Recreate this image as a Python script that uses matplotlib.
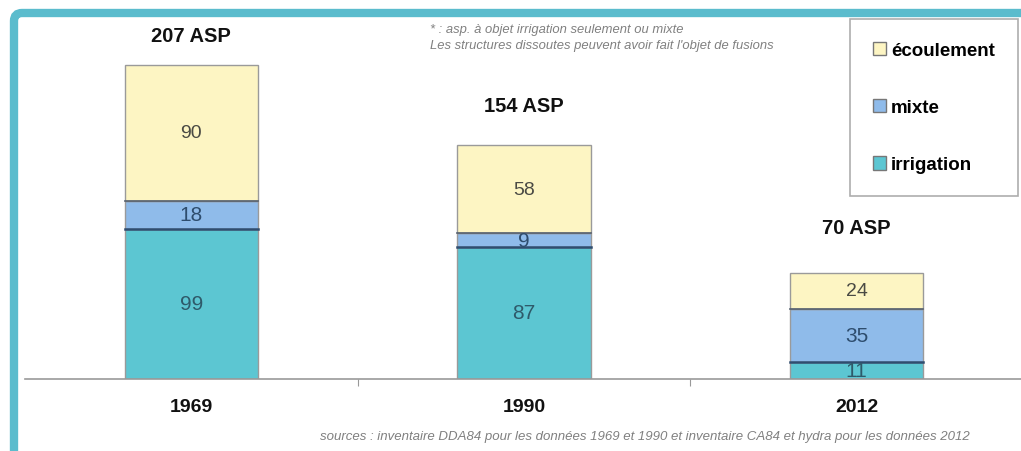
import matplotlib.pyplot as plt
from matplotlib.patches import Patch, FancyBboxPatch
from matplotlib.transforms import IdentityTransform
import numpy as np

plt.rcParams['font.family'] = ['Liberation Sans', 'DejaVu Sans']

years = ["1969", "1990", "2012"]
irrigation = [99, 87, 11]
mixte = [18, 9, 35]
ecoulement = [90, 58, 24]
totals = ["207 ASP", "154 ASP", "70 ASP"]

# gap between bar top and total label (layout only)
label_gap = [19, 26, 30]

c_irr = '#5cc6d2'
c_mix = '#8fbbea'
c_eco = '#fdf5c3'
c_edge = '#9a9a9a'
c_sep = '#2f4d70'

fig = plt.figure(figsize=(10.21, 4.52), dpi=100)
ax = fig.add_axes([25 / 1021, 72 / 452, 998 / 1021, 360 / 452])

x = np.arange(len(years))
irr = np.array(irrigation)
mix = np.array(mixte)
eco = np.array(ecoulement)
w = 0.40

ax.bar(x, irr, w, color=c_irr, edgecolor=c_edge, lw=1)
ax.bar(x, mix, w, bottom=irr, color=c_mix, edgecolor=c_edge, lw=1)
ax.bar(x, eco, w, bottom=irr + mix, color=c_eco, edgecolor=c_edge, lw=1)
# dark separators on top of the lower segments
for i in range(len(x)):
    ax.plot([x[i] - w / 2, x[i] + w / 2], [irr[i], irr[i]], c=c_sep, lw=1.8)
    ax.plot([x[i] - w / 2, x[i] + w / 2], [irr[i] + mix[i]] * 2, c='#55606e', lw=1.2)

for i in range(len(x)):
    ax.text(x[i], irr[i] / 2, str(irr[i]), ha='center', va='center', fontsize=15, color='#2e5a6a')
    ax.text(x[i], irr[i] + mix[i] / 2, str(mix[i]), ha='center', va='center', fontsize=15, color='#2e4d6e')
    ax.text(x[i], irr[i] + mix[i] + eco[i] / 2, str(eco[i]), ha='center', va='center', fontsize=14, color='#4a4a44')
    top = irr[i] + mix[i] + eco[i]
    ax.text(x[i], top + label_gap[i], totals[i], ha='center', va='center', fontsize=14.5,
            fontweight='bold', color='#111111')

ax.set_xlim(-0.5, 2.5)
ax.set_ylim(0, 237)
ax.set_yticks([])
ax.set_xticks([0.5, 1.5])
ax.set_xticklabels([])
ax.tick_params(axis='x', length=5, color='#999999')
for s in ['top', 'right', 'left']:
    ax.spines[s].set_visible(False)
ax.spines['bottom'].set_color('#999999')
ax.spines['bottom'].set_linewidth(1.2)
for i, yr in enumerate(years):
    ax.text(x[i], -18, yr, ha='center', va='center', fontsize=14, fontweight='bold', color='#111111')

# notes
fig.text(430 / 1021, 1 - 30 / 452, "* : asp. à objet irrigation seulement ou mixte",
         fontsize=9.4, style='italic', color='#808080', va='center')
fig.text(430 / 1021, 1 - 46 / 452, "Les structures dissoutes peuvent avoir fait l'objet de fusions",
         fontsize=9.4, style='italic', color='#808080', va='center')
fig.text(320 / 1021, 1 - 437 / 452,
         "sources : inventaire DDA84 pour les données 1969 et 1990 et inventaire CA84 et hydra pour les données 2012",
         fontsize=9.5, style='italic', color='#808080', va='center')

handles = [Patch(facecolor=c_eco, edgecolor='#777777'),
           Patch(facecolor=c_mix, edgecolor='#777777'),
           Patch(facecolor=c_irr, edgecolor='#777777')]
leg = fig.legend(handles, ["écoulement", "mixte", "irrigation"],
                 loc='upper left', bbox_to_anchor=(850 / 1021, 1 - 20 / 452),
                 prop={'weight': 'bold', 'size': 13.5}, handlelength=0.7, handleheight=0.7,
                 handletextpad=0.3, labelspacing=2.15, borderpad=1.2, borderaxespad=0,
                 fancybox=False, frameon=True, edgecolor='#999999')
leg.get_frame().set_linewidth(1.2)

# teal frame around the picture
frame = FancyBboxPatch((14, -60), 1100, 60 + 452 - 14, boxstyle='round,pad=0,rounding_size=8',
                       transform=IdentityTransform(), facecolor='none', edgecolor='#5bbccd', lw=6)
fig.patches.append(frame)

plt.savefig("out.png", dpi=100)
